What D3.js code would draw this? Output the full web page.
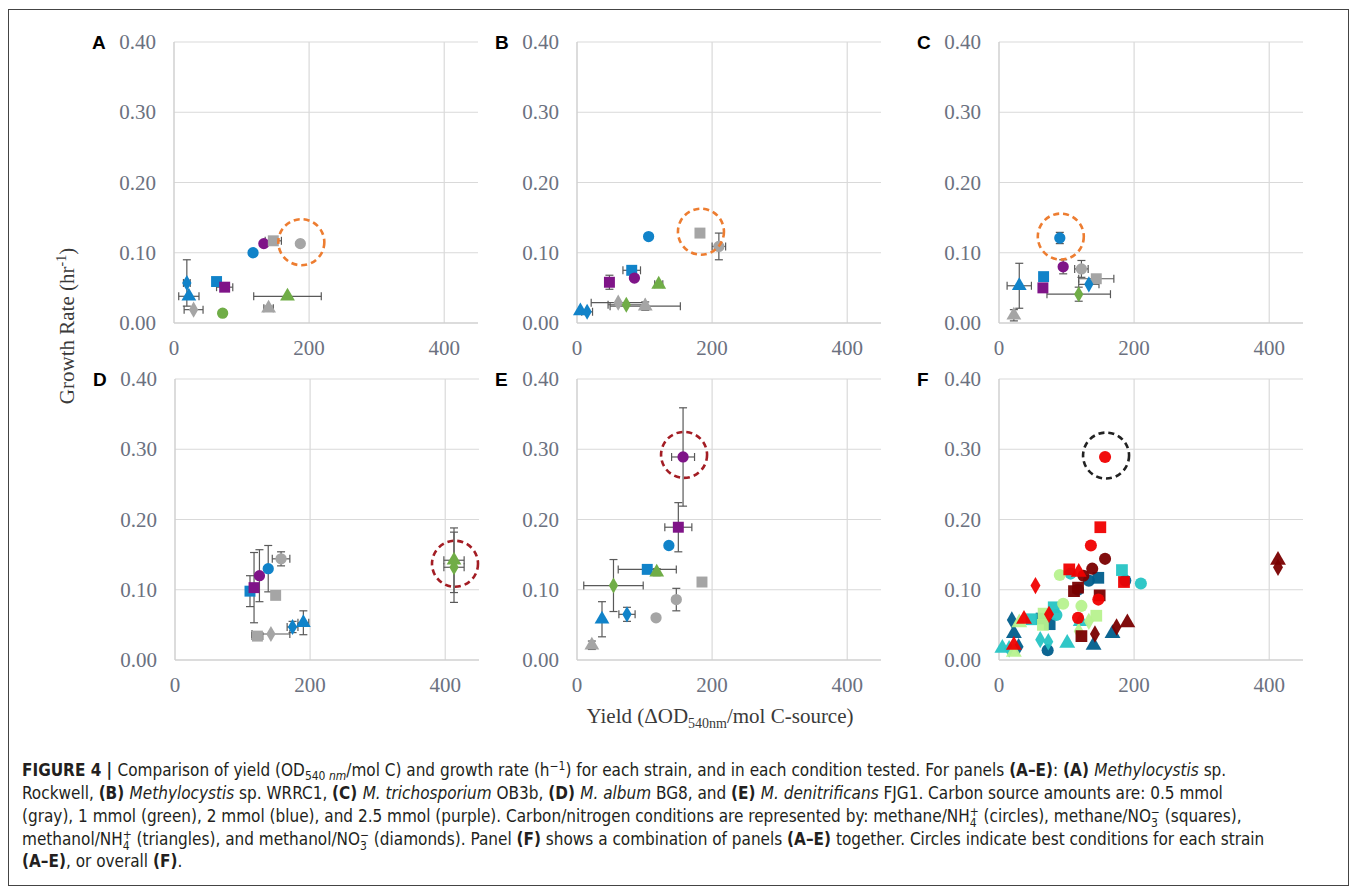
<!DOCTYPE html>
<html>
<head>
<meta charset="utf-8">
<script src="https://cdn.jsdelivr.net/npm/d3@7"></script>
<style>
  body { margin: 0; background: #fff; }
  .tick-label { font-family: "Liberation Serif", "DejaVu Serif", serif; font-size: 21px; fill: #6b7180; }
  .panel-letter { font-family: "Liberation Sans", Arial, sans-serif; font-weight: bold; font-size: 19px; fill: #000; }
  .axis-title { font-family: "Liberation Serif", serif; font-size: 21px; fill: #3a3a3a; }
  .caption { font-family: "Liberation Sans Narrow", "DejaVu Sans Condensed", sans-serif; font-size: 17px; fill: #231f20; }
</style>
</head>
<body>
<svg id="fig" width="1357" height="893"></svg>
<script>
// [yield, growth rate, x error, y error, carbon amount, condition]
const panelA = [
  [19, 0.057, 5, 0.033, 'blue', 'diamond'],
  [22, 0.038, 15, 0, 'blue', 'triangle'],
  [29, 0.019, 14, 0, 'gray', 'diamond'],
  [72, 0.014, 0, 0.004, 'green', 'circle'],
  [63, 0.059, 0, 0, 'blue', 'square'],
  [75, 0.051, 12, 0.006, 'purple', 'square'],
  [117, 0.100, 0, 0, 'blue', 'circle'],
  [133, 0.113, 0, 0, 'purple', 'circle'],
  [147, 0.117, 12, 0, 'gray', 'square'],
  [187, 0.113, 4, 0, 'gray', 'circle'],
  [168, 0.038, 50, 0, 'green', 'triangle'],
  [140, 0.021, 7, 0.003, 'gray', 'triangle']
]
const panelB = [
  [5, 0.017, 0, 0, 'blue', 'triangle'],
  [15, 0.016, 8, 0, 'blue', 'diamond'],
  [61, 0.029, 40, 0, 'gray', 'diamond'],
  [73, 0.026, 27, 0, 'green', 'diamond'],
  [101, 0.024, 52, 0.006, 'gray', 'triangle'],
  [48, 0.058, 0, 0.01, 'purple', 'square'],
  [81, 0.075, 13, 0, 'blue', 'square'],
  [85, 0.064, 0, 0, 'purple', 'circle'],
  [121, 0.055, 6, 0, 'green', 'triangle'],
  [106, 0.123, 0, 0, 'blue', 'circle'],
  [182, 0.128, 4, 0, 'gray', 'square'],
  [210, 0.109, 10, 0.019, 'gray', 'circle']
]
const panelC = [
  [22, 0.011, 0, 0.008, 'gray', 'triangle'],
  [30, 0.053, 18, 0.032, 'blue', 'triangle'],
  [66, 0.066, 0, 0, 'blue', 'square'],
  [65, 0.050, 0, 0.005, 'purple', 'square'],
  [118, 0.041, 47, 0.01, 'green', 'diamond'],
  [95, 0.080, 0, 0.01, 'purple', 'circle'],
  [90, 0.121, 0, 0.008, 'blue', 'circle'],
  [122, 0.077, 10, 0.012, 'gray', 'circle'],
  [144, 0.063, 26, 0, 'gray', 'square'],
  [133, 0.055, 15, 0, 'blue', 'diamond']
]
const panelD = [
  [111, 0.098, 0, 0.022, 'blue', 'square'],
  [117, 0.103, 0, 0.05, 'purple', 'square'],
  [125, 0.120, 0, 0.037, 'purple', 'circle'],
  [138, 0.130, 0, 0.033, 'blue', 'circle'],
  [157, 0.144, 13, 0.01, 'gray', 'circle'],
  [149, 0.092, 0, 0, 'gray', 'square'],
  [122, 0.034, 8, 0, 'gray', 'square'],
  [142, 0.037, 28, 0, 'gray', 'diamond'],
  [174, 0.047, 8, 0.008, 'blue', 'diamond'],
  [190, 0.053, 8, 0.017, 'blue', 'triangle'],
  [413, 0.132, 15, 0.05, 'green', 'diamond'],
  [413, 0.142, 15, 0.046, 'green', 'triangle']
]
const panelE = [
  [22, 0.021, 0, 0.006, 'gray', 'triangle'],
  [37, 0.058, 0, 0.025, 'blue', 'triangle'],
  [54, 0.106, 44, 0.037, 'green', 'diamond'],
  [74, 0.065, 12, 0.01, 'blue', 'diamond'],
  [117, 0.060, 0, 0, 'gray', 'circle'],
  [147, 0.086, 0, 0.016, 'gray', 'circle'],
  [185, 0.111, 0, 0, 'gray', 'square'],
  [104, 0.129, 43, 0, 'blue', 'square'],
  [118, 0.125, 0, 0.005, 'green', 'triangle'],
  [136, 0.163, 0, 0, 'blue', 'circle'],
  [150, 0.189, 20, 0.035, 'purple', 'square'],
  [157, 0.289, 17, 0.07, 'purple', 'circle']
]

const xTicks = [0, 200, 400]
const yTicks = [0, 0.1, 0.2, 0.3, 0.4]

const carbonColor = { gray: '#a5a5a5', green: '#70ad47', blue: '#1183c9', purple: '#7f1488' }
const strainColor = { A: '#005e8c', B: '#26c4c4', C: '#b7f28e', D: '#7a0000', E: '#f00000' }
const shapeType = { circle: d3.symbolCircle, square: d3.symbolSquare, triangle: d3.symbolTriangle, diamond: d3.symbolDiamond }
const shapeSize = { circle: 100, square: 120, triangle: 95, diamond: 75 }

const panels = [
  { key: 'A', left: 174, top: 42, data: panelA, best: 9, ring: '#ed7d31' },
  { key: 'B', left: 577, top: 42, data: panelB, best: 10, ring: '#ed7d31' },
  { key: 'C', left: 999, top: 42, data: panelC, best: 6, ring: '#ed7d31' },
  { key: 'D', left: 175, top: 379, data: panelD, best: 11, ring: '#a31d24', dy: -0.005 },
  { key: 'E', left: 577, top: 379, data: panelE, best: 11, ring: '#a31d24', dy: 0.003 },
  { key: 'F', left: 999, top: 379, combined: true, ring: '#222' }
]

const W = 304, H = 281
const svg = d3.select('#fig')

// outer frame
svg.append('rect').attr('x', 8.5).attr('y', 9.5).attr('width', 1340).attr('height', 876)
  .attr('fill', 'none').attr('stroke', '#444').attr('stroke-width', 1)

panels.forEach(p => {
  const x = d3.scaleLinear().domain([0, 450]).range([0, W])
  const y = d3.scaleLinear().domain([0, 0.4]).range([H, 0])
  const g = svg.append('g').attr('transform', `translate(${p.left},${p.top})`)

  // grid
  g.selectAll('.gy').data(yTicks.slice(1)).enter().append('line')
    .attr('x1', 0).attr('x2', W).attr('y1', d => y(d)).attr('y2', d => y(d))
    .attr('stroke', '#d9d9d9').attr('stroke-width', 1.2)
  g.selectAll('.gx').data(xTicks.slice(1)).enter().append('line')
    .attr('x1', d => x(d)).attr('x2', d => x(d)).attr('y1', 0).attr('y2', H)
    .attr('stroke', '#d9d9d9').attr('stroke-width', 1.2)
  g.append('line').attr('x1', 0).attr('x2', 0).attr('y1', 0).attr('y2', H).attr('stroke', '#d0d0d0').attr('stroke-width', 1.5)
  g.append('line').attr('x1', 0).attr('x2', W).attr('y1', H).attr('y2', H).attr('stroke', '#d0d0d0').attr('stroke-width', 1.5)

  // tick labels
  g.selectAll('.yl').data(yTicks).enter().append('text').attr('class', 'tick-label')
    .attr('x', -18).attr('y', d => y(d) + 7).attr('text-anchor', 'end').text(d3.format('.2f'))
  g.selectAll('.xl').data(xTicks).enter().append('text').attr('class', 'tick-label')
    .attr('x', d => x(d)).attr('y', H + 32).attr('text-anchor', 'middle').text(d => d)

  g.append('text').attr('class', 'panel-letter').attr('x', -82).attr('y', 7).text(p.key)

  let pts
  if (p.combined) {
    pts = []
    panels.filter(q => !q.combined).forEach(q => q.data.forEach(d => pts.push({ d, color: strainColor[q.key], err: false })))
  } else {
    pts = p.data.map(d => ({ d, color: carbonColor[d[4]], err: true }))
  }

  // error bars
  const eb = g.append('g').attr('stroke', '#595959').attr('stroke-width', 1.2)
  pts.filter(o => o.err).forEach(({ d }) => {
    const cx = x(d[0]), cy = y(d[1])
    if (d[2] > 0) {
      const x1 = x(d[0] - d[2]), x2 = x(d[0] + d[2])
      eb.append('line').attr('x1', x1).attr('x2', x2).attr('y1', cy).attr('y2', cy)
      ;[x1, x2].forEach(v => eb.append('line').attr('x1', v).attr('x2', v).attr('y1', cy - 4).attr('y2', cy + 4))
    }
    if (d[3] > 0) {
      const y1 = y(d[1] - d[3]), y2 = y(d[1] + d[3])
      eb.append('line').attr('x1', cx).attr('x2', cx).attr('y1', y1).attr('y2', y2)
      ;[y1, y2].forEach(v => eb.append('line').attr('x1', cx - 4).attr('x2', cx + 4).attr('y1', v).attr('y2', v))
    }
  })

  g.selectAll('.pt').data(pts).enter().append('path')
    .attr('transform', o => `translate(${x(o.d[0])},${y(o.d[1])})`)
    .attr('d', o => d3.symbol().type(shapeType[o.d[5]]).size(shapeSize[o.d[5]] * (p.combined ? 1.15 : 1))())
    .attr('fill', o => o.color)
    .attr('opacity', p.combined ? 0.95 : 1)

  // best condition ring
  const best = p.combined ? panelE[11] : p.data[p.best]
  g.append('circle').attr('cx', x(best[0]) + 1).attr('cy', y(best[1] + (p.dy || 0.002)))
    .attr('r', 23).attr('fill', 'none').attr('stroke', p.ring)
    .attr('stroke-width', 2.6).attr('stroke-dasharray', '6,4')
})

// axis titles
svg.append('text').attr('class', 'axis-title').attr('transform', 'translate(74,326) rotate(-90)')
  .attr('text-anchor', 'middle')
  .call(t => {
    t.append('tspan').text('Growth Rate (hr')
    t.append('tspan').attr('dy', -8).attr('font-size', 14).text('-1')
    t.append('tspan').attr('dy', 8).text(')')
  })
svg.append('text').attr('class', 'axis-title').attr('x', 720).attr('y', 723).attr('text-anchor', 'middle')
  .call(t => {
    t.append('tspan').text('Yield (ΔOD')
    t.append('tspan').attr('dy', 5).attr('font-size', 14).text('540nm')
    t.append('tspan').attr('dy', -5).text('/mol C-source)')
  })

// caption
const captionLines = [
  [['b', 'FIGURE 4 | '], ['', 'Comparison of yield (OD'], ['sub', '540 '], ['subi', 'nm'], ['', '/mol C) and growth rate (h'], ['sup', '−1'], ['', ') for each strain, and in each condition tested. For panels '], ['b', '(A–E)'], ['', ': '], ['b', '(A) '], ['i', 'Methylocystis'], ['', ' sp.']],
  [['', 'Rockwell, '], ['b', '(B) '], ['i', 'Methylocystis'], ['', ' sp. WRRC1, '], ['b', '(C) '], ['i', 'M. trichosporium'], ['', ' OB3b, '], ['b', '(D) '], ['i', 'M. album'], ['', ' BG8, and '], ['b', '(E) '], ['i', 'M. denitrificans'], ['', ' FJG1. Carbon source amounts are: 0.5 mmol']],
  [['', '(gray), 1 mmol (green), 2 mmol (blue), and 2.5 mmol (purple). Carbon/nitrogen conditions are represented by: methane/NH'], ['ion', '4', '+'], ['', ' (circles), methane/NO'], ['ion', '3', '−'], ['', ' (squares),']],
  [['', 'methanol/NH'], ['ion', '4', '+'], ['', ' (triangles), and methanol/NO'], ['ion', '3', '−'], ['', ' (diamonds). Panel '], ['b', '(F)'], ['', ' shows a combination of panels '], ['b', '(A–E)'], ['', ' together. Circles indicate best conditions for each strain']],
  [['b', '(A–E)'], ['', ', or overall '], ['b', '(F)'], ['', '.']]
]
const lineY = [776, 799, 822, 845, 867]
const offset = { '': 0, b: 0, i: 0, sub: 4, subi: 4, sup: -6 }
captionLines.forEach((parts, i) => {
  const t = svg.append('text').attr('class', 'caption').attr('x', 22).attr('y', lineY[i])
  let cur = 0
  parts.forEach(([k, s, s2]) => {
    if (k === 'ion') {
      t.append('tspan').attr('dy', 5 - cur).attr('font-size', 12).text(s)
      t.append('tspan').attr('dx', -7).attr('dy', -11).attr('font-size', 12).text(s2)
      cur = -6
      return
    }
    const target = offset[k]
    const ts = t.append('tspan').attr('dy', target - cur).text(s)
    cur = target
    if (k === 'b') ts.attr('font-weight', 'bold')
    if (k === 'i' || k === 'subi') ts.attr('font-style', 'italic')
    if (k === 'sub' || k === 'subi' || k === 'sup') ts.attr('font-size', 12)
  })
})
</script>
</body>
</html>
